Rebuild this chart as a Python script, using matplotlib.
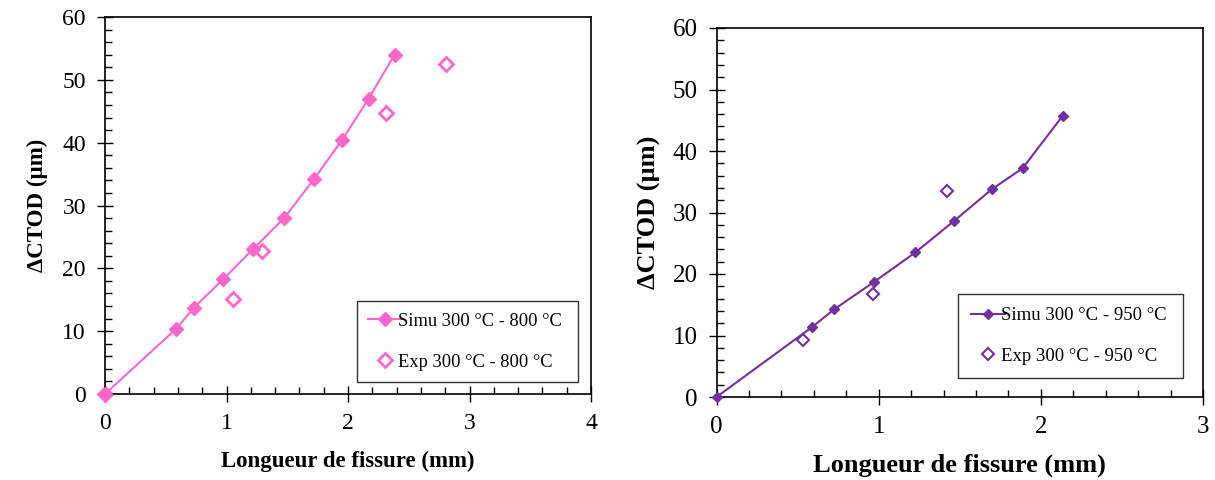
import matplotlib
matplotlib.use("Agg")
import matplotlib.pyplot as plt
from matplotlib.ticker import MultipleLocator

plt.rcParams['font.family'] = ['Liberation Serif', 'DejaVu Serif']

# Left chart: 300 °C - 800 °C
simu800_x = [0, 0.584, 0.73, 0.975, 1.22, 1.475, 1.72, 1.95, 2.17, 2.383]
simu800_y = [0, 10.35, 13.7, 18.3, 23.1, 28.0, 34.2, 40.4, 47.0, 54.0]
exp800_x = [0, 1.057, 1.293, 2.309, 2.806]
exp800_y = [0, 15.1, 22.8, 44.7, 52.5]

# Right chart: 300 °C - 950 °C
simu950_x = [0, 0.587, 0.726, 0.971, 1.226, 1.464, 1.699, 1.888, 2.134]
simu950_y = [0, 11.33, 14.26, 18.7, 23.5, 28.6, 33.8, 37.2, 45.7]
exp950_x = [0.535, 0.965, 1.423]
exp950_y = [9.27, 16.75, 33.5]

xlabel = "Longueur de fissure (mm)"
ylabel = "ΔCTOD (µm)"

W, H = 1215, 480
fig = plt.figure(figsize=(W / 100, H / 100), dpi=100)

def px_axes(x0, y0, x1, y1):
    return fig.add_axes([x0 / W, 1 - y1 / H, (x1 - x0) / W, (y1 - y0) / H])

def style(ax, xmax, fs_tick, fs_label, xlabelpad, ylabelpad):
    ax.set_ylim(0, 60)
    ax.set_xlim(0, xmax)
    ax.xaxis.set_major_locator(MultipleLocator(1))
    ax.xaxis.set_minor_locator(MultipleLocator(0.2))
    ax.yaxis.set_major_locator(MultipleLocator(10))
    ax.yaxis.set_minor_locator(MultipleLocator(2))
    ax.tick_params(which='major', direction='inout', length=11.5, width=1.0,
                   labelsize=fs_tick, pad=6)
    ax.tick_params(which='minor', direction='in', length=5, width=1.0)
    ax.tick_params(axis='y', which='both', left=True, right=False)
    ax.tick_params(axis='y', which='major', pad=8)
    ax.tick_params(axis='x', which='both', bottom=True, top=False)
    ax.tick_params(axis='x', which='major', pad=8)
    for s in ax.spines.values():
        s.set_linewidth(1.2)
    ax.set_xlabel(xlabel, fontsize=fs_label, fontweight='bold', labelpad=xlabelpad)
    ax.set_ylabel(ylabel, fontsize=fs_label, fontweight='bold', labelpad=ylabelpad)

pink = '#FF66CC'
purple = '#7030A0'

ax1 = px_axes(105, 17, 591, 394)
ax1.plot(simu800_x, simu800_y, color=pink, lw=1.5, marker='D', ms=7,
         markerfacecolor=pink, markeredgecolor=pink, label='Simu 300 °C - 800 °C',
         clip_on=False, zorder=3)
ax1.plot(exp800_x, exp800_y, ls='none', marker='D', ms=7.5, markerfacecolor='white',
         markeredgecolor=pink, markeredgewidth=2, label='Exp 300 °C - 800 °C',
         clip_on=False, zorder=2)
style(ax1, 4, 17, 16.5, 12, 10)
leg1 = ax1.legend(loc='lower left', bbox_to_anchor=((357 - 105) / 486, (394 - 382) / 377,
                  (578 - 357) / 486, (382 - 302) / 377), mode='expand',
                  fontsize=13.3, frameon=True, fancybox=False, edgecolor='black',
                  borderpad=0.62, labelspacing=1.3, handlelength=1.8, handletextpad=-0.2,
                  borderaxespad=0)
leg1.get_frame().set_linewidth(1.0)

ax2 = px_axes(716.5, 28, 1203, 397)
ax2.plot(simu950_x, simu950_y, color=purple, lw=1.5, marker='D', ms=5.5,
         markerfacecolor=purple, markeredgecolor=purple, label='Simu 300 °C - 950 °C',
         clip_on=False, zorder=3)
ax2.plot(exp950_x, exp950_y, ls='none', marker='D', ms=6, markerfacecolor='white',
         markeredgecolor=purple, markeredgewidth=1.5, label='Exp 300 °C - 950 °C',
         clip_on=False, zorder=2)
style(ax2, 3, 18, 19, 11, 8)
leg2 = ax2.legend(loc='lower left', bbox_to_anchor=((958 - 716.5) / 486.5, (397 - 378) / 369,
                  (1183 - 958) / 486.5, (378 - 295) / 369), mode='expand',
                  fontsize=13.5, frameon=True, fancybox=False, edgecolor='black',
                  borderpad=0.7, labelspacing=1.25, handlelength=1.8, handletextpad=-0.2,
                  borderaxespad=0)
leg2.get_frame().set_linewidth(1.0)

fig.savefig('out.png', dpi=100)
